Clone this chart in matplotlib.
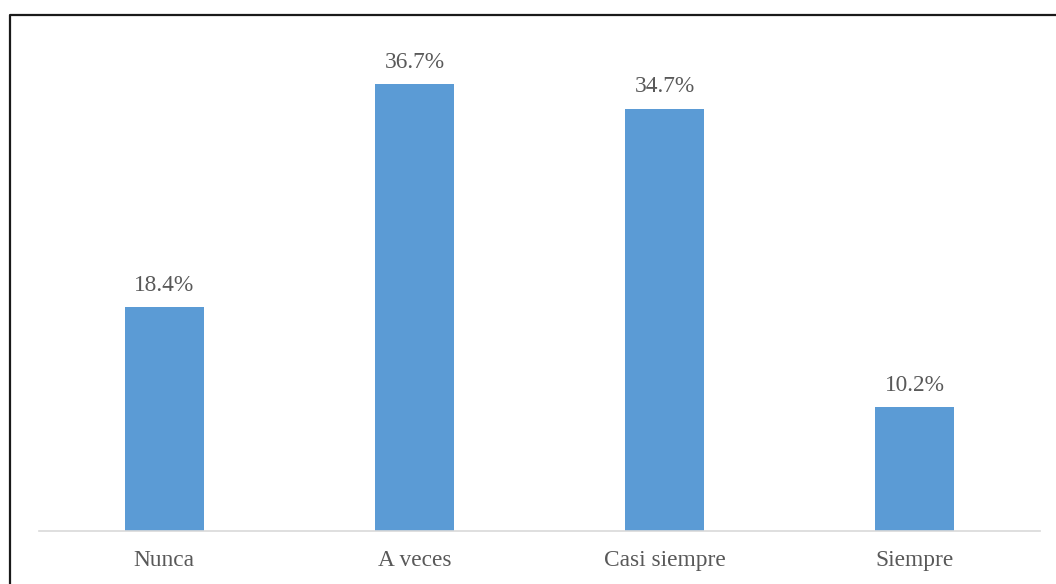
import matplotlib.pyplot as plt
from matplotlib.lines import Line2D

categories = ["Nunca", "A veces", "Casi siempre", "Siempre"]
percentages = [18.4, 36.7, 34.7, 10.2]
value_labels = ["18.4%", "36.7%", "34.7%", "10.2%"]

BAR_COLOR = "#5B9BD5"
TEXT_COLOR = "#595959"


def plot_frequency_chart(save_path: str) -> None:
    plt.rcParams["font.family"] = ["Liberation Serif", "DejaVu Serif"]

    fig = plt.figure(figsize=(10.56, 5.84), dpi=100)
    ax = fig.add_axes([39 / 1056, 53 / 584, 1001 / 1056, 487 / 584])

    x = range(len(categories))
    bars = ax.bar(x, percentages, width=0.316, color=BAR_COLOR)

    for bar, label in zip(bars, value_labels):
        ax.annotate(label, (bar.get_x() + bar.get_width() / 2, bar.get_height()),
                    xytext=(0, 8), textcoords="offset points",
                    ha="center", va="bottom", fontsize=16.8, color=TEXT_COLOR)

    ax.set_xlim(-0.5, len(categories) - 0.5)
    ax.set_ylim(0, 40)
    ax.set_xticks(list(x))
    ax.set_xticklabels(categories, fontsize=16.8, color=TEXT_COLOR)
    ax.tick_params(axis="x", length=0, pad=14)
    ax.set_yticks([])

    for side in ("top", "right", "left"):
        ax.spines[side].set_visible(False)
    ax.spines["bottom"].set_color("#D9D9D9")
    ax.spines["bottom"].set_linewidth(1.2)

    # partial outer frame along the left and top edges
    w, h = 1056, 584
    frame = Line2D([9.5 / w, 9.5 / w, 1.0], [0.0, 1 - 14.5 / h, 1 - 14.5 / h],
                   transform=fig.transFigure, color="#1a1a1a", linewidth=1.6)
    fig.add_artist(frame)

    fig.savefig(save_path, dpi=100)
    plt.close(fig)


if __name__ == "__main__":
    plot_frequency_chart("out.png")
